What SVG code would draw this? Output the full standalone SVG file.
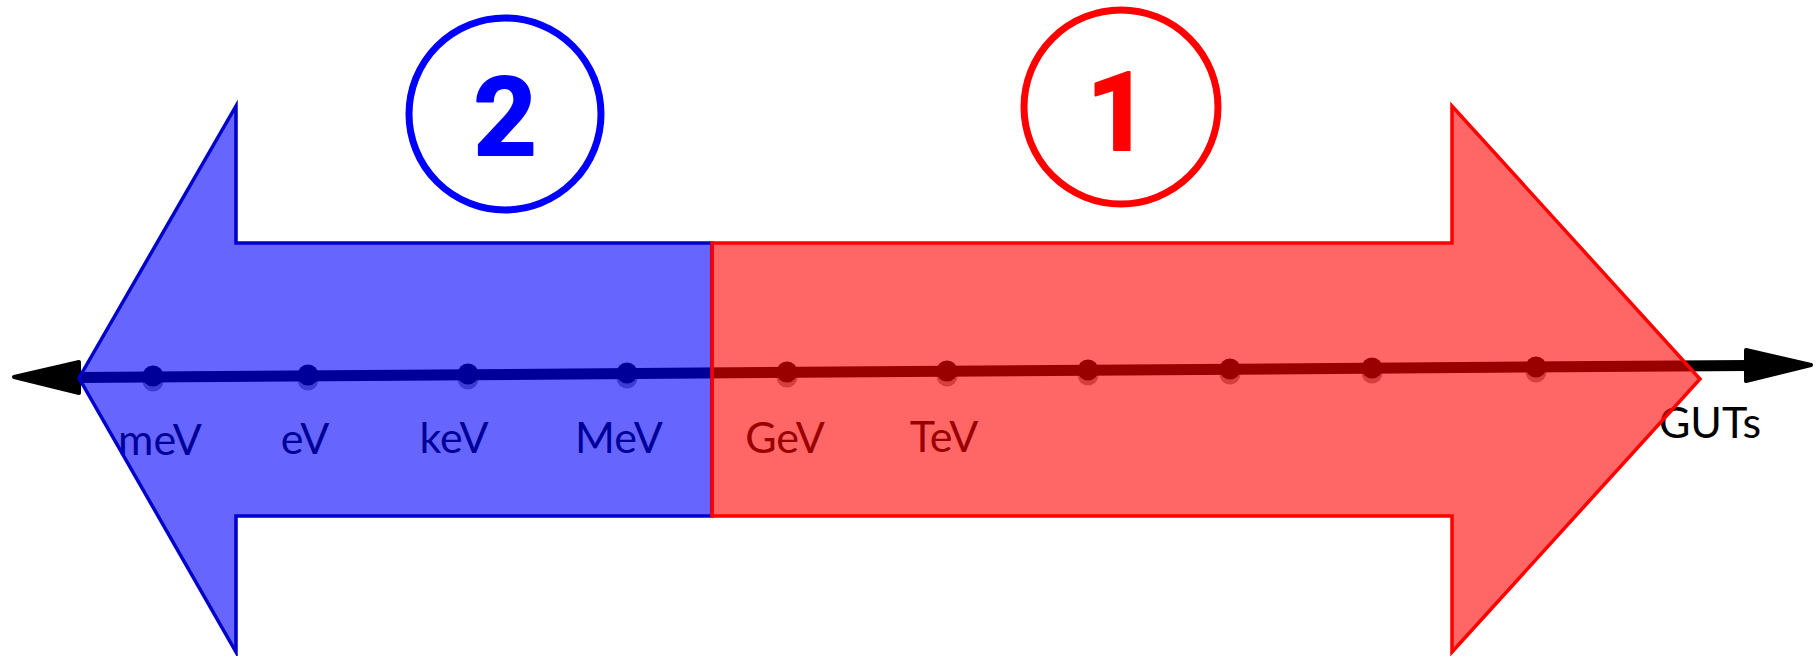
<svg xmlns="http://www.w3.org/2000/svg" width="1819" height="656" viewBox="0 0 1819 656">
  <style>
    .axis { stroke: #000; stroke-width: 11; fill: none; }
    .head { fill: #000; stroke: #000; stroke-width: 4; stroke-linejoin: round; }
    .tick { fill: #000; }
    .tick-shadow { fill: #000; fill-opacity: 0.4; }
    .label { font-family: Lato, "Open Sans", sans-serif; font-size: 43px; fill: #000; text-anchor: middle; }
    .band-low { fill: #0000ff; fill-opacity: 0.6; stroke: #0000cc; stroke-width: 3.5; stroke-linejoin: miter; }
    .band-high { fill: #ff0000; fill-opacity: 0.6; stroke: #ff0000; stroke-width: 3.5; stroke-linejoin: miter; }
    .badge { fill: #fff; stroke-width: 7; }
    .badge-num { font-family: Roboto, "Open Sans", sans-serif; font-weight: bold; font-size: 110px; text-anchor: middle; stroke-width: 2; stroke-linejoin: round; }
  </style>

  <!-- energy axis (drawn first; the translucent bands tint it) -->
  <g id="connectors">
    <line class="axis" x1="78" y1="377.5" x2="1748" y2="365.5"/>
    <polygon class="head" points="14,377 79,362 79,393"/>
    <polygon class="head" points="1746,350 1811,365 1746,381"/>
  </g>

  <!-- tick marks on the axis -->
  <g id="ticks">
    <circle class="tick-shadow" cx="153" cy="381" r="10.5"/>
    <circle class="tick-shadow" cx="308" cy="380" r="10.5"/>
    <circle class="tick-shadow" cx="468" cy="379" r="10.5"/>
    <circle class="tick-shadow" cx="627" cy="378" r="10.5"/>
    <circle class="tick-shadow" cx="787" cy="377" r="10.5"/>
    <circle class="tick-shadow" cx="947" cy="376" r="10.5"/>
    <circle class="tick-shadow" cx="1088" cy="375" r="10.5"/>
    <circle class="tick-shadow" cx="1230" cy="374" r="10.5"/>
    <circle class="tick-shadow" cx="1372" cy="373" r="10.5"/>
    <circle class="tick-shadow" cx="1536" cy="372" r="10.5"/>
    <circle class="tick" cx="153" cy="376" r="10.5"/>
    <circle class="tick" cx="308" cy="375" r="10.5"/>
    <circle class="tick" cx="468" cy="374" r="10.5"/>
    <circle class="tick" cx="627" cy="373" r="10.5"/>
    <circle class="tick" cx="787" cy="372" r="10.5"/>
    <circle class="tick" cx="947" cy="371" r="10.5"/>
    <circle class="tick" cx="1088" cy="370" r="10.5"/>
    <circle class="tick" cx="1230" cy="369" r="10.5"/>
    <circle class="tick" cx="1372" cy="368" r="10.5"/>
    <circle class="tick" cx="1536" cy="367" r="10.5"/>
  </g>

  <!-- scale labels -->
  <g id="labels">
    <text class="label" x="160" y="455">meV</text>
    <text class="label" x="305" y="454">eV</text>
    <text class="label" x="454" y="453">keV</text>
    <text class="label" x="619" y="453">MeV</text>
    <text class="label" x="785" y="453">GeV</text>
    <text class="label" x="944" y="452">TeV</text>
    <text class="label" x="1710" y="438">GUTs</text>
  </g>

  <!-- low-energy band pointing left -->
  <g id="band-low">
    <polygon class="band-low" points="79,378 236,106 236,243 712,243 712,516 236,516 236,652"/>
  </g>

  <!-- high-energy band pointing right -->
  <g id="band-high">
    <polygon class="band-high" points="712,243 1452,243 1452,106 1700,379 1452,652 1452,516 712,516"/>
  </g>

  <!-- numbered badges -->
  <g id="badge-2">
    <circle class="badge" cx="505" cy="114" r="96" stroke="#0000ff"/>
    <text class="badge-num" x="505" y="155" fill="#0000ff" stroke="#0000ff">2</text>
  </g>
  <g id="badge-1">
    <circle class="badge" cx="1121" cy="107" r="97" stroke="#ff0000"/>
    <text class="badge-num" x="1118" y="150" fill="#ff0000" stroke="#ff0000">1</text>
  </g>
</svg>
